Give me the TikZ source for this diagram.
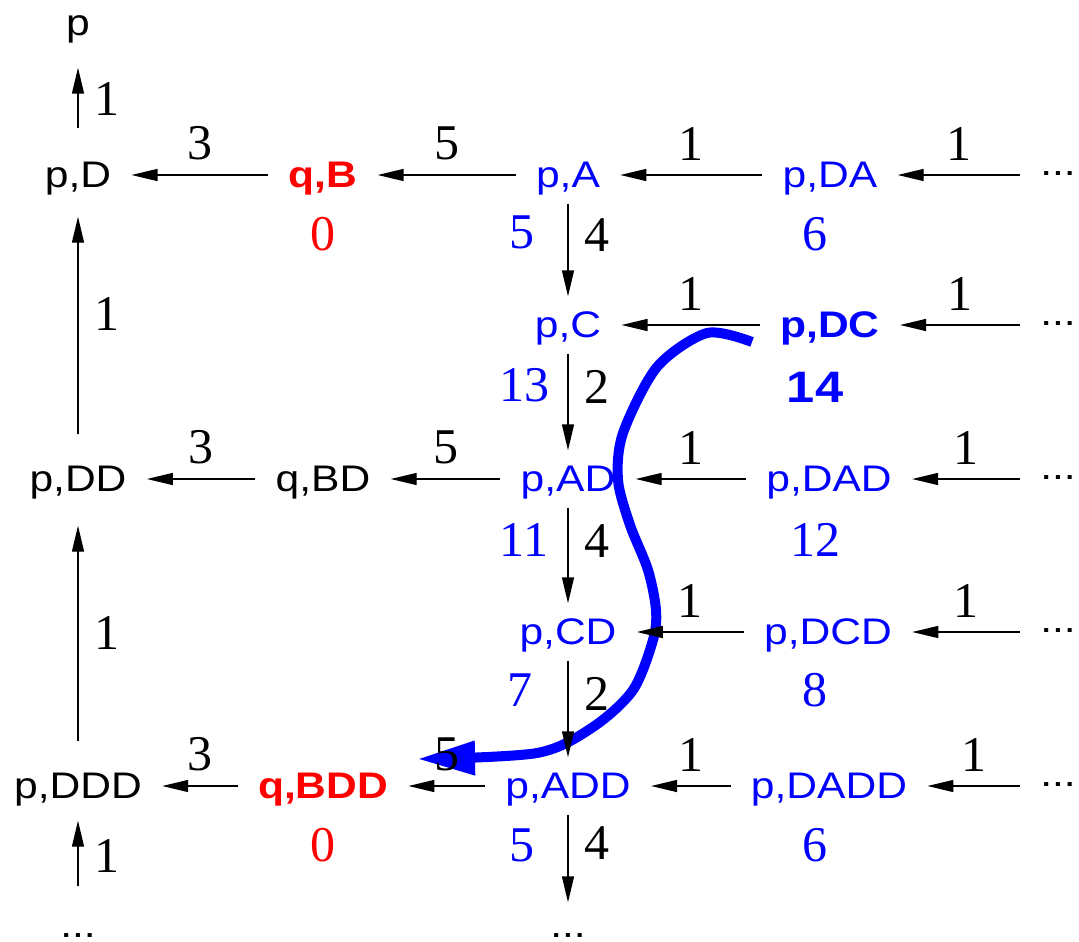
\documentclass[tikz,border=0pt]{standalone}
\usepackage{fontspec}
\setmainfont{Liberation Serif}
\setsansfont[FakeStretch=1.15]{Liberation Sans}
\usetikzlibrary{arrows.meta}

\newcommand{\pkte}{\raisebox{6pt}{...}}

\tikzset{
  zustand/.style={font=\sffamily\fontsize{18.5}{20}\selectfont, inner sep=6pt, text height=13.3pt, text depth=1pt},
  blau/.style={zustand, blue},
  ziel/.style={zustand, red, font=\sffamily\bfseries\fontsize{18.5}{20}\selectfont},
  fett/.style={zustand, blue, font=\sffamily\bfseries\fontsize{18.5}{20}\selectfont},
  wert/.style={font=\fontsize{25}{28}\selectfont, inner sep=0pt},
  gewicht/.style={font=\fontsize{25}{28}\selectfont, inner sep=2pt, black},
  kante/.style={-{Triangle[length=13pt,width=6pt]}, line width=0.7pt},
  hkante/.style={kante, shorten <=4pt, shorten >=4pt},
  vkante/.style={kante, shorten <=1pt, shorten >=1pt},
  lkante/.style={kante, shorten <=9pt, shorten >=9pt},
  weg/.style={blue, line width=5pt, -{Triangle[length=29pt,width=16pt]}}
}

\begin{document}
\begin{tikzpicture}[x=0.5pt,y=-0.5pt]
    \useasboundingbox (0,0) rectangle (1079,941);

    %Pfad, frei Hand
    \coordinate (wegA) at (752,342);
    \coordinate (wegB) at (417,759);
    \draw[weg] plot [smooth] coordinates{(wegA) (707,333) (657,367) (623,433) (618,480) (630,525) (648,570) (656,610) (653,640) (633,690) (593,727) (537,753) (wegB)};

    %Zustaende
    \node[zustand] (p) at (78,23) {p};
    \node[zustand] (pD) at (78,175) {p,D};
    \node[ziel] (qB) at (323,175) {q,B};
    \node[blau] (pA) at (568,175) {p,A};
    \node[blau] (pDA) at (830,175) {p,DA};
    \node[zustand] (oA) at (1058,175) {\pkte};

    \node[blau] (pC) at (568,325) {p,C};
    \node[fett] (pDC) at (830,325) {p,DC};
    \node[zustand] (oC) at (1058,325) {\pkte};

    \node[zustand] (pDD) at (78,479) {p,DD};
    \node[zustand] (qBD) at (323,479) {q,BD};
    \node[blau] (pAD) at (568,479) {p,AD};
    \node[blau] (pDAD) at (829,479) {p,DAD};
    \node[zustand] (oAD) at (1058,479) {\pkte};

    \node[blau] (pCD) at (568,632) {p,CD};
    \node[blau] (pDCD) at (828,632) {p,DCD};
    \node[zustand] (oCD) at (1058,632) {\pkte};

    \node[zustand] (pDDD) at (78,786) {p,DDD};
    \node[ziel] (qBDD) at (323,786) {q,BDD};
    \node[blau] (pADD) at (568,786) {p,ADD};
    \node[blau] (pDADD) at (829,786) {p,DADD};
    \node[zustand] (oADD) at (1058,786) {\pkte};

    \node[zustand] (uL) at (78,925) {...};
    \node[zustand] (uM) at (568,925) {...};

    %Werte
    \node[wert, red] (wB) at (323,234) {0};
    \node[wert, blue] (wA) at (522,232) {5};
    \node[wert, blue] (wDA) at (815,234) {6};
    \node[wert, blue] (wC) at (524,385) {13};
    \node[wert, blue, font=\sffamily\bfseries\fontsize{22}{24}\selectfont] (wDC) at (815,387) {14};
    \node[wert, blue] (wAD) at (524,540) {11};
    \node[wert, blue] (wDAD) at (815,540) {12};
    \node[wert, blue] (wCD) at (520,690) {7};
    \node[wert, blue] (wDCD) at (815,690) {8};
    \node[wert, red] (wBDD) at (323,845) {0};
    \node[wert, blue] (wADD) at (522,845) {5};
    \node[wert, blue] (wDADD) at (815,845) {6};

    %Kanten waagrecht
    \draw[hkante] (qB) -- (pD) node[gewicht, midway, above=5pt]{3};
    \draw[hkante] (pA) -- (qB) node[gewicht, midway, above=5pt]{5};
    \draw[hkante] (pDA) -- (pA) node[gewicht, midway, above=5pt]{1};
    \draw[hkante] (oA) -- (pDA) node[gewicht, midway, above=5pt]{1};
    \draw[hkante] (pDC) -- (pC) node[gewicht, midway, above=5pt]{1};
    \draw[hkante] (oC) -- (pDC) node[gewicht, midway, above=5pt]{1};
    \draw[hkante] (qBD) -- (pDD) node[gewicht, midway, above=5pt]{3};
    \draw[hkante] (pAD) -- (qBD) node[gewicht, midway, above=5pt]{5};
    \draw[hkante] (pDAD) -- (pAD) node[gewicht, midway, above=5pt]{1};
    \draw[hkante] (oAD) -- (pDAD) node[gewicht, midway, above=5pt]{1};
    \draw[hkante] (pDCD) -- (pCD) node[gewicht, midway, above=5pt]{1};
    \draw[hkante] (oCD) -- (pDCD) node[gewicht, midway, above=5pt]{1};
    \draw[hkante] (qBDD) -- (pDDD) node[gewicht, midway, above=5pt]{3};
    \draw[hkante] (pADD) -- (qBDD) node[gewicht, midway, above=5pt]{5};
    \draw[hkante] (pDADD) -- (pADD) node[gewicht, midway, above=5pt]{1};
    \draw[hkante] (oADD) -- (pDADD) node[gewicht, midway, above=5pt]{1};

    %Kanten senkrecht
    \draw[lkante, shorten <=10pt] (pD) -- (p) node[gewicht, midway, right=6pt]{1};
    \draw[lkante, shorten >=7.5pt] (pDD) -- (pD) node[gewicht, pos=.55, right=6pt]{1};
    \draw[lkante, shorten >=10pt] (pDDD) -- (pDD) node[gewicht, midway, right=6pt]{1};
    \draw[lkante, shorten <=6pt, shorten >=4pt] (uL) -- (pDDD) node[gewicht, midway, right=6pt]{1};
    \draw[vkante] (pA) -- (pC) node[gewicht, pos=.35, right=6pt]{4};
    \draw[vkante] (pC) -- (pAD) node[gewicht, pos=.35, right=6pt]{2};
    \draw[vkante] (pAD) -- (pCD) node[gewicht, pos=.35, right=6pt]{4};
    \draw[vkante] (pCD) -- (pADD) node[gewicht, pos=.35, right=6pt]{2};
    \draw[vkante, shorten >=-2pt] (pADD) -- (uM) node[gewicht, pos=.35, right=6pt]{4};
\end{tikzpicture}
\end{document}
